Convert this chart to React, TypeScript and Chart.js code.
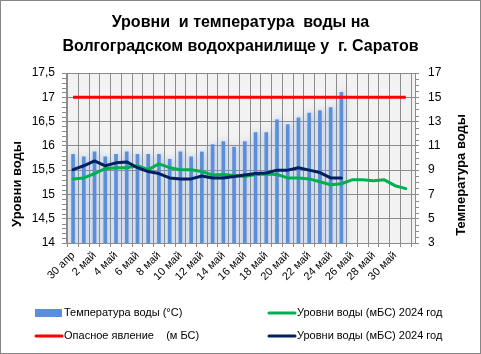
import React, { useEffect, useRef } from 'react';
import { Chart, registerables } from 'chart.js';

Chart.register(...registerables);

const FONT = "'Liberation Sans', Arial, sans-serif";

const titleLines = ['Уровни  и температура  воды на', 'Волгоградском водохранилище у  г. Саратов'];
const leftAxisTitle = 'Уровни воды';
const rightAxisTitle = 'Температура воды';

const dates = [
  '30 апр', '1 май', '2 май', '3 май', '4 май', '5 май', '6 май', '7 май', '8 май', '9 май',
  '10 май', '11 май', '12 май', '13 май', '14 май', '15 май', '16 май', '17 май', '18 май', '19 май',
  '20 май', '21 май', '22 май', '23 май', '24 май', '25 май', '26 май', '27 май', '28 май', '29 май',
  '30 май', '31 май',
];

const temperature = [
  10.3, 10.1, 10.5, 10.1, 10.3, 10.5, 10.3, 10.3, 10.3, 9.9,
  10.5, 10.1, 10.5, 11.1, 11.35, 10.9, 11.35, 12.1, 12.1, 13.15,
  12.75, 13.3, 13.7, 13.9, 14.15, 15.4,
];

const dangerLevel = Array.from({ length: 32 }, () => 17);

const levelsGreen = [
  15.32, 15.34, 15.43, 15.53, 15.55, 15.55, 15.59, 15.51, 15.63, 15.55,
  15.51, 15.51, 15.47, 15.4, 15.41, 15.39, 15.37, 15.41, 15.42, 15.41,
  15.34, 15.34, 15.32, 15.26, 15.2, 15.22, 15.3, 15.3, 15.28, 15.3,
  15.18, 15.12,
];

const levelsNavy = [
  15.51, 15.59, 15.69, 15.59, 15.65, 15.67, 15.55, 15.47, 15.43, 15.34,
  15.32, 15.32, 15.38, 15.34, 15.34, 15.37, 15.4, 15.43, 15.44, 15.5,
  15.5, 15.55, 15.5, 15.45, 15.34, 15.34,
];

const legendLabels = {
  temp: 'Температура воды (°С)',
  danger: 'Опасное явление    (м БС)',
  green: 'Уровни воды (мБС) 2024 год',
  navy: 'Уровни воды (мБС) 2024 год',
};

const toXY = (arr: number[]) => arr.map((v, i) => ({ x: i, y: v }));

const GRID = '#8C8C8C';

const decorPlugin = {
  id: 'decor',
  beforeDraw(chart: any) {
    const { ctx, chartArea } = chart;
    ctx.save();
    ctx.fillStyle = '#FFFFFF';
    ctx.fillRect(0, 0, chart.width, chart.height);
    ctx.fillStyle = '#F2F2F2';
    ctx.fillRect(chartArea.left, chartArea.top, chartArea.right - chartArea.left, chartArea.bottom - chartArea.top);
    ctx.restore();
  },
  beforeDatasetDraw(chart: any, args: any) {
    if (args.index === 0) {
      const ctx = chart.ctx;
      ctx.save();
      ctx.shadowColor = 'rgba(120,155,210,0.75)';
      ctx.shadowBlur = 7;
      ctx.shadowOffsetX = 1;
      ctx.shadowOffsetY = 0;
    }
  },
  afterDatasetDraw(chart: any, args: any) {
    if (args.index === 0) chart.ctx.restore();
  },
  afterDraw(chart: any) {
    const { ctx } = chart;
    const ys = chart.scales.y;
    const yr = chart.scales.y1;
    ctx.save();
    // minor ticks
    ctx.strokeStyle = GRID;
    ctx.lineWidth = 1;
    ctx.beginPath();
    for (let k = 0; k <= 35; k++) {
      if (k % 5 === 0) continue;
      const y = Math.round(ys.getPixelForValue(14 + k * 0.1)) + 0.5;
      ctx.moveTo(ys.right - 4, y);
      ctx.lineTo(ys.right, y);
    }
    for (let k = 0; k <= 28; k++) {
      if (k % 4 === 0) continue;
      const y = Math.round(yr.getPixelForValue(3 + k * 0.5)) + 0.5;
      ctx.moveTo(yr.left, y);
      ctx.lineTo(yr.left + 4, y);
    }
    ctx.stroke();

    // axis titles
    ctx.fillStyle = '#000';
    ctx.font = `bold 13px ${FONT}`;
    ctx.textAlign = 'center';
    ctx.textBaseline = 'middle';
    ctx.save();
    ctx.translate(17, 184);
    ctx.rotate(-Math.PI / 2);
    ctx.fillText(leftAxisTitle, 0, 0);
    ctx.restore();
    ctx.save();
    ctx.translate(461, 175);
    ctx.rotate(-Math.PI / 2);
    ctx.fillText(rightAxisTitle, 0, 0);
    ctx.restore();

    // legend
    const ds = chart.data.datasets;
    const items = [
      { ds: ds[0], x: 35, y: 313, box: true },
      { ds: ds[2], x: 268, y: 313, box: false },
      { ds: ds[1], x: 35, y: 336, box: false },
      { ds: ds[3], x: 268, y: 336, box: false },
    ];
    ctx.font = `11px ${FONT}`;
    ctx.textAlign = 'left';
    for (const it of items) {
      if (it.box) {
        ctx.fillStyle = it.ds.backgroundColor;
        ctx.fillRect(it.x, it.y - 4, 27, 8);
      } else {
        ctx.strokeStyle = it.ds.borderColor;
        ctx.lineWidth = 3;
        ctx.lineCap = 'round';
        ctx.beginPath();
        ctx.moveTo(it.x + 1, it.y);
        ctx.lineTo(it.x + 27, it.y);
        ctx.stroke();
      }
      ctx.fillStyle = '#000';
      ctx.fillText(it.ds.label, it.x + 29, it.y);
    }

    // outer border
    ctx.strokeStyle = '#868686';
    ctx.lineWidth = 1;
    ctx.strokeRect(0.5, 0.5, chart.width - 1, chart.height - 1);
    ctx.restore();
  },
};

export default function App() {
  const ref = useRef<HTMLCanvasElement>(null);

  useEffect(() => {
    const canvas = ref.current;
    if (!canvas) return;
    const chart = new Chart(canvas, {
      data: {
        datasets: [
          {
            type: 'bar',
            label: legendLabels.temp,
            data: toXY(temperature),
            yAxisID: 'y1',
            backgroundColor: '#5B8FD9',
            barThickness: 3,
            grouped: false,
            order: 4,
          },
          {
            type: 'line',
            label: legendLabels.danger,
            data: toXY(dangerLevel),
            yAxisID: 'y',
            borderColor: '#FF0000',
            borderWidth: 3,
            pointRadius: 0,
            order: 2,
          },
          {
            type: 'line',
            label: legendLabels.green,
            data: toXY(levelsGreen),
            yAxisID: 'y',
            borderColor: '#00B050',
            borderWidth: 3,
            pointRadius: 0,
            borderJoinStyle: 'round',
            borderCapStyle: 'round',
            order: 3,
          },
          {
            type: 'line',
            label: legendLabels.navy,
            data: toXY(levelsNavy),
            yAxisID: 'y',
            borderColor: '#002060',
            borderWidth: 3,
            pointRadius: 0,
            borderJoinStyle: 'round',
            borderCapStyle: 'round',
            order: 1,
          },
        ],
      } as any,
      options: {
        responsive: false,
        animation: false,
        devicePixelRatio: 1,
        layout: { padding: { left: 0, right: 0, top: 0, bottom: 71 } },
        plugins: {
          legend: { display: false },
          tooltip: { enabled: false },
          title: {
            display: true,
            text: titleLines,
            color: '#000',
            font: { family: FONT, size: 16, weight: 'bold', lineHeight: 1.5 },
            padding: { top: 11, bottom: 14 },
          },
        },
        scales: {
          x: {
            type: 'linear',
            min: -0.15,
            max: 31.35,
            afterBuildTicks: (scale: any) => {
              scale.ticks = dates.map((_, i) => ({ value: i }));
            },
            afterFit: (scale: any) => {
              scale.height = 40;
            },
            ticks: {
              autoSkip: false,
              minRotation: 45,
              maxRotation: 45,
              color: '#000',
              font: { family: FONT, size: 11 },
              padding: 2,
              callback: (v: any) => (Number(v) % 2 === 0 ? dates[Number(v)] : ''),
            },
            grid: { color: GRID, tickLength: 4, drawTicks: true },
            border: { color: GRID },
          },
          y: {
            position: 'left',
            min: 14,
            max: 17.5,
            afterFit: (scale: any) => {
              scale.width = 66;
            },
            ticks: {
              stepSize: 0.5,
              color: '#000',
              font: { family: FONT, size: 12 },
              padding: 7,
              callback: (v: any) => String(v).replace('.', ','),
            },
            grid: { color: GRID, tickLength: 4 },
            border: { color: GRID },
          },
          y1: {
            position: 'right',
            min: 3,
            max: 17,
            afterFit: (scale: any) => {
              scale.width = 66;
            },
            ticks: {
              stepSize: 2,
              color: '#000',
              font: { family: FONT, size: 12 },
              padding: 9,
            },
            grid: { drawOnChartArea: false, color: GRID, tickLength: 4 },
            border: { color: GRID },
          },
        },
      } as any,
      plugins: [decorPlugin],
    });
    return () => chart.destroy();
  }, []);

  return (
    <div style={{ position: 'absolute', left: 0, top: 0, width: 481, height: 354 }}>
      <canvas ref={ref} width={481} height={354} style={{ display: 'block' }} />
    </div>
  );
}
